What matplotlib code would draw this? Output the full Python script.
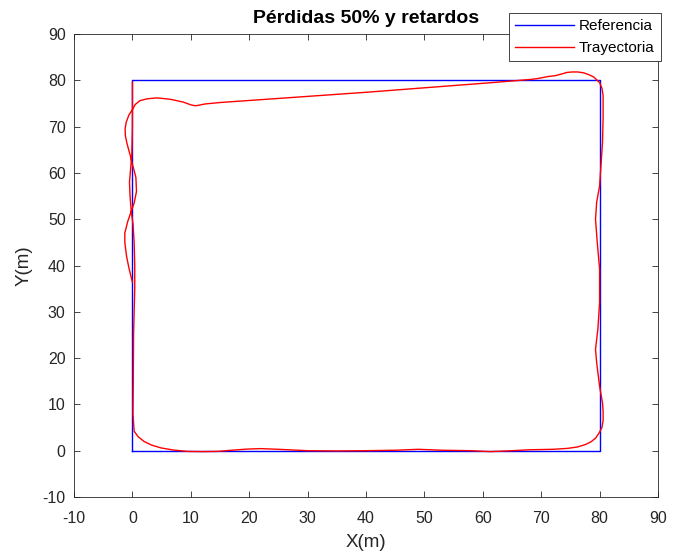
import matplotlib
matplotlib.use("Agg")
import matplotlib.pyplot as plt

plt.rcParams['font.family'] = ['Liberation Sans', 'DejaVu Sans']
plt.rcParams['axes.unicode_minus'] = False

title = "Pérdidas 50% y retardos"
ref_label = "Referencia"
traj_label = "Trayectoria"

ref_x = [0, 80, 80, 0, 0]
ref_y = [0, 0, 80, 80, 0]

traj_x = [0.0, 0.0, -0.1, -0.3, -0.5, -0.4, -0.2, 0.1, 0.3, 0.4, 0.4, 0.3, 0.2, 0.15, 0.1, 0.2, 0.3,
          1.0, 2.0, 3.3, 4.9, 7.0, 9.4, 12.0, 14.6, 17.0, 19.7, 22.0, 25.0, 30.0, 35.0, 40.0, 45.0, 49.0,
          53.0, 58.0, 61.3, 65.0, 68.0, 72.0, 74.5, 76.2, 77.5, 78.5, 79.3, 79.9, 80.4, 80.6, 80.6, 80.5,
          80.0, 79.5, 79.3, 79.7, 80.0, 80.0, 79.6, 79.3, 79.5, 80.0, 80.2, 80.5, 80.6, 80.6, 80.4, 80.0,
          79.0, 78.2, 77.3, 76.3, 75.3, 74.4, 73.6, 72.4, 71.1, 69.5, 68.3, 62.6, 39.9, 15.0,
          12.5, 11.5, 10.8, 10.0, 8.7, 6.5, 4.2, 2.5, 1.3, 0.5, 0.07, -0.6, -1.07, -1.25, -1.2, -0.95, -0.68, -0.35,
          -0.1, 0.3, 0.6, 0.7, 0.3, -0.2, -0.8, -1.3, -1.3, -1.0, -0.6, 0.0]
traj_y = [79.6, 70.0, 64.0, 61.0, 58.0, 55.0, 51.7, 49.0, 45.0, 40.0, 35.0, 30.0, 25.0, 15.0, 8.0, 6.0, 4.2,
          3.0, 2.0, 1.2, 0.6, 0.15, -0.15, -0.2, -0.15, 0.1, 0.35, 0.45, 0.3, 0.0, -0.05, 0.0, 0.1, 0.3,
          0.1, 0.0, -0.2, 0.0, 0.2, 0.3, 0.5, 0.8, 1.3, 1.9, 2.7, 3.8, 5.0, 6.5, 8.5, 10.3,
          13.9, 19.0, 21.9, 26.2, 32.0, 39.2, 45.0, 50.0, 53.7, 57.2, 61.0, 66.6, 72.0, 76.7, 78.3, 79.5,
          80.7, 81.2, 81.6, 81.8, 81.8, 81.7, 81.4, 81.0, 80.8, 80.4, 80.2, 79.6, 77.4, 75.2,
          74.9, 74.65, 74.5, 74.7, 75.3, 75.9, 76.2, 76.0, 75.6, 74.8, 73.8, 72.5, 70.9, 69.5, 68.0, 66.5, 65.2, 63.7,
          62.3, 60.5, 59.0, 56.0, 53.5, 51.7, 49.5, 47.0, 45.0, 42.0, 39.5, 36.4]

ticks = list(range(-10, 91, 10))

fig = plt.figure(figsize=(6.73, 5.59), dpi=100)
ax = fig.add_axes([74/673, 1-497/559, 584/673, 463/559])

ax.plot(ref_x, ref_y, color='#0000ff', lw=1.0, label=ref_label)
ax.plot(traj_x, traj_y, color='#ff0000', lw=1.0, label=traj_label)

ax.set_xlim(-10, 90)
ax.set_ylim(-10, 90)
ax.set_xticks(ticks)
ax.set_yticks(ticks)
gray = '#262626'
ax.tick_params(direction='in', length=4, width=0.6, colors=gray, labelsize=11.5,
               top=True, right=True)
ax.tick_params(axis='x', pad=10)
ax.tick_params(axis='y', pad=6)
for s in ax.spines.values():
    s.set_color(gray)
    s.set_linewidth(0.6)

ax.set_xlabel("X(m)", fontsize=13.5, color=gray, labelpad=6)
ax.set_ylabel("Y(m)", fontsize=13.5, color=gray, labelpad=7)
ax.set_title(title, fontsize=14, fontweight='bold', color='black', pad=8)

leg = ax.legend(loc='upper right', bbox_to_anchor=(1.005, 1.045), fontsize=11,
                frameon=True, fancybox=False, edgecolor=gray, framealpha=1,
                borderpad=0.4, handlelength=3.9, handletextpad=0.3, labelspacing=0.5,
                borderaxespad=0)
leg.get_frame().set_linewidth(0.6)

fig.savefig("out.png", dpi=100)
